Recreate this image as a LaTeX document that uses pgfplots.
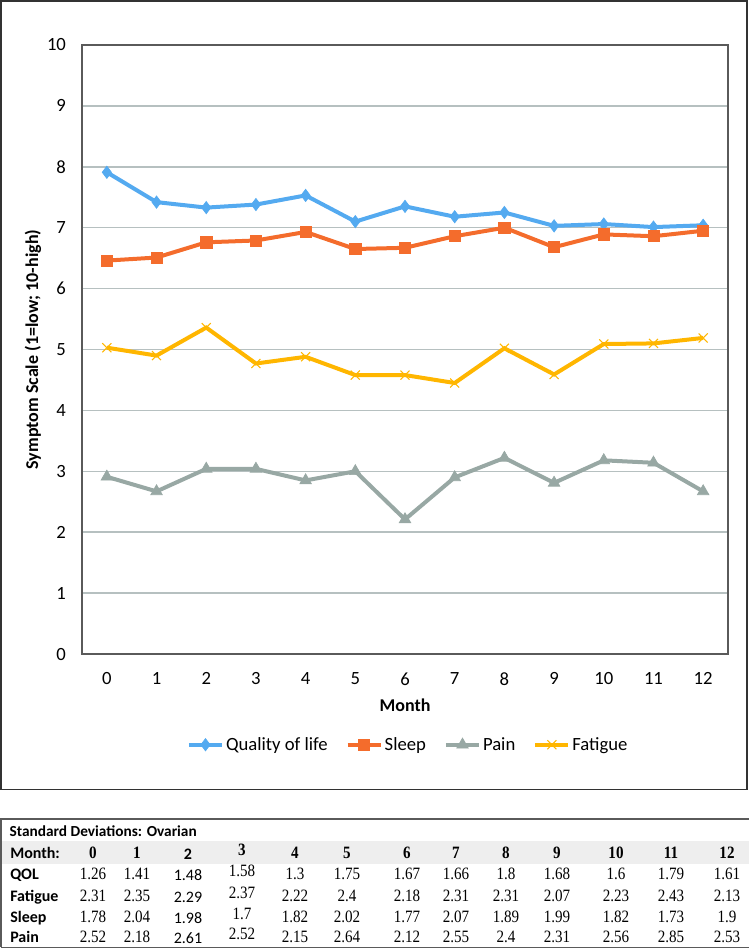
\documentclass[border=0pt]{standalone}
\usepackage{fontspec}
\setmainfont{Carlito}
\newfontfamily\tnr[FakeStretch=0.87]{Liberation Serif}
\usepackage{pgfplots}
\pgfplotsset{compat=1.18}
\definecolor{cqol}{RGB}{84,170,240}
\definecolor{csleep}{RGB}{244,108,44}
\definecolor{cpain}{RGB}{152,168,164}
\definecolor{cfat}{RGB}{255,182,0}
\definecolor{gridc}{RGB}{182,192,192}
\definecolor{axc}{RGB}{90,90,90}
\definecolor{boxc}{RGB}{50,50,50}
\definecolor{tbg}{RGB}{238,238,238}
\definecolor{tline}{RGB}{90,90,90}

\def\colx{{69.75,102.75,141,181.5,221.25,260.25,305.25,342,379.5,417.75,462,503.25,545.25}}
\newcommand\trow[3]{% #1 baseline (pt), #2 font cmd, #3 list
  \foreach \v [count=\i from 0] in {#3} {
    \pgfmathsetmacro\cx{\colx[\i]}
    \ifnum\i=2
      \node[anchor=base, inner sep=0pt, font=#2\fontsize{12}{14}\selectfont] at (\cx pt, {(#1-1.2)*1pt}) {\v};
    \else\ifnum\i=3
      \node[anchor=base, inner sep=0pt, font=#2\tnr\fontsize{13}{15}\selectfont] at (\cx pt, {(#1+1.8)*1pt}) {\v};
    \else
      \node[anchor=base, inner sep=0pt, font=#2\tnr\fontsize{13}{15}\selectfont] at (\cx pt, #1 pt) {\v};
    \fi\fi
  }}

\begin{document}
\begin{tikzpicture}
\useasboundingbox (0,0) rectangle (561.75pt,-711pt);
% outer chart box
\draw[line width=1.1pt, boxc] (0.6pt,-0.6pt) rectangle (560.4pt,-592.2pt);

\begin{axis}[
  at={(61.5pt,-490.5pt)}, anchor=south west,
  scale only axis, width=484.5pt, height=456.75pt,
  xmin=-0.5, xmax=12.5, ymin=0, ymax=10,
  xtick={0,...,12}, ytick={0,...,10},
  major tick length=0pt,
  ymajorgrids, grid style={gridc, line width=1.1pt},
  axis line style={axc, line width=1.1pt},
  /pgf/number format/assume math mode=true,
  tick label style={font=\fontsize{14}{16}\selectfont, text=black},
  yticklabel style={xshift=-8.5pt},
  xticklabel style={yshift=-10.5pt},
  xlabel={Month},
  xlabel style={font=\bfseries\fontsize{13.5}{16}\selectfont, at={(axis description cs:0.5,-0.0837)}, anchor=center},
  ylabel={Symptom Scale (1=low; 10-high)},
  ylabel style={font=\bfseries\fontsize{13.5}{16}\selectfont, at={(axis description cs:-0.0759,0.5)}, anchor=center},
  legend columns=4,
  legend style={at={(axis description cs:0.505,-0.149)}, anchor=center, draw=none, fill=none,
    font=\fontsize{14}{16}\selectfont, inner sep=0pt,
    nodes={inner xsep=1.5pt, inner ysep=2pt},
    /tikz/every even column/.append style={column sep=12pt}},
  legend image code/.code={\draw[mark repeat=2,mark phase=2,#1] plot coordinates {(0pt,0pt)(12.4pt,0pt)(24.8pt,0pt)};},
]
\addplot[cqol, line width=3pt, mark=diamond*, mark size=4.6pt, mark options={solid, line width=0.5pt}]
  coordinates {(0,7.91)(1,7.42)(2,7.33)(3,7.38)(4,7.53)(5,7.10)(6,7.35)(7,7.18)(8,7.25)(9,7.03)(10,7.06)(11,7.01)(12,7.04)};
\addlegendentry{Quality of life}
\addplot[csleep, line width=3pt, mark=square*, mark size=4.2pt, mark options={solid, line width=0.5pt}]
  coordinates {(0,6.46)(1,6.51)(2,6.76)(3,6.79)(4,6.93)(5,6.65)(6,6.67)(7,6.86)(8,7.00)(9,6.68)(10,6.89)(11,6.86)(12,6.95)};
\addlegendentry{Sleep}
\addplot[cpain, line width=3pt, mark=triangle*, mark size=5pt, mark options={solid, line width=0.5pt}]
  coordinates {(0,2.91)(1,2.67)(2,3.04)(3,3.04)(4,2.85)(5,3.00)(6,2.21)(7,2.90)(8,3.22)(9,2.81)(10,3.18)(11,3.14)(12,2.67)};
\addlegendentry{Pain}
\addplot[cfat, line width=3pt, mark=x, mark size=4.8pt, mark options={solid, line width=0.8pt}]
  coordinates {(0,5.03)(1,4.90)(2,5.36)(3,4.77)(4,4.88)(5,4.58)(6,4.58)(7,4.45)(8,5.02)(9,4.59)(10,5.09)(11,5.10)(12,5.19)};
\addlegendentry{Fatigue}
\end{axis}

% ---- table ----
\fill[tbg] (0.75pt,-630.75pt) rectangle (561.75pt,-648pt);
\draw[tline, line width=0.9pt] (0.75pt,-710.4pt) -- (0.75pt,-614.25pt) -- (561.75pt,-614.25pt);
\draw[tline, line width=0.9pt] (0.75pt,-710.4pt) -- (561.75pt,-710.4pt);
\node[anchor=base west, inner sep=0pt, font=\bfseries\fontsize{11.5}{13}\selectfont] at (7pt,-627.05pt) {Standard Deviations: Ovarian};
\node[anchor=base west, inner sep=0pt, font=\bfseries\fontsize{12}{14}\selectfont] at (7.5pt,-643.55pt) {Month:};
\node[anchor=base west, inner sep=0pt, font=\bfseries\fontsize{12}{14}\selectfont] at (7.5pt,-659.3pt) {QOL};
\node[anchor=base west, inner sep=0pt, font=\bfseries\fontsize{12}{14}\selectfont] at (7.5pt,-675.8pt) {Fatigue};
\node[anchor=base west, inner sep=0pt, font=\bfseries\fontsize{12}{14}\selectfont] at (7.5pt,-691.55pt) {Sleep};
\node[anchor=base west, inner sep=0pt, font=\bfseries\fontsize{12}{14}\selectfont] at (7.5pt,-706.55pt) {Pain};
\trow{-643.55}{\bfseries}{0,1,2,3,4,5,6,7,8,9,10,11,12}
\trow{-659.3}{}{1.26,1.41,1.48,1.58,1.3,1.75,1.67,1.66,1.8,1.68,1.6,1.79,1.61}
\trow{-675.8}{}{2.31,2.35,2.29,2.37,2.22,2.4,2.18,2.31,2.31,2.07,2.23,2.43,2.13}
\trow{-691.55}{}{1.78,2.04,1.98,1.7,1.82,2.02,1.77,2.07,1.89,1.99,1.82,1.73,1.9}
\trow{-706.55}{}{2.52,2.18,2.61,2.52,2.15,2.64,2.12,2.55,2.4,2.31,2.56,2.85,2.53}
\end{tikzpicture}
\end{document}
